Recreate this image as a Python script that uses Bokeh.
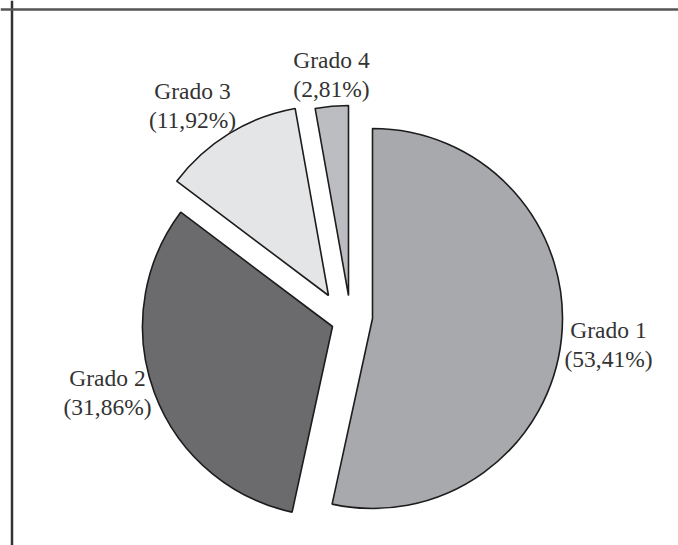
import math
from bokeh.plotting import figure
from bokeh.models import ColumnDataSource, Span
from bokeh.core.properties import value
from bokeh.embed import file_html
from bokeh.resources import INLINE

# ---- data ----
categories = ["Grado 1", "Grado 2", "Grado 3", "Grado 4"]
percentages = [53.41, 31.86, 11.92, 2.81]

# ---- layout / style (not data) ----
W, H = 678, 545
center = (350, 229)          # pie centre in plot units (1 unit = 1 px)
radius = 190
explode = [(22, -2), (-18, -10), (-22, 21), (-2, 21)]      # per-slice shift
label_anchor = [(258, -28), (-243, -76), (-158, 211), (-19, 242)]
line_gap = 14.5
colors = ["#a8a9ac", "#6b6b6d", "#e4e5e7", "#bcbdc0"]

total = sum(percentages)
xs, ys, starts, ends = [], [], [], []
cum = 0.0
for i, v in enumerate(percentages):
    f0 = cum / total
    cum += v
    f1 = cum / total
    # clockwise from 12 o'clock -> bokeh counter-clockwise angles
    starts.append(math.radians(90 - 360 * f1))
    ends.append(math.radians(90 - 360 * f0))
    xs.append(center[0] + explode[i][0])
    ys.append(center[1] + explode[i][1])

src = ColumnDataSource(dict(x=xs, y=ys, start=starts, end=ends, color=colors))

p = figure(width=W, height=H, x_range=(0, W), y_range=(0, H),
           output_backend="svg", toolbar_location=None, min_border=0)
p.axis.visible = False
p.grid.visible = False
p.outline_line_color = None
p.background_fill_color = "white"
p.border_fill_color = "white"

p.wedge(x="x", y="y", radius=radius, start_angle="start", end_angle="end",
        fill_color="color", line_color="#1c1c1c", line_width=1.6, source=src)

name_x, name_y, pct_x, pct_y, pct_txt = [], [], [], [], []
for i, (c, v) in enumerate(zip(categories, percentages)):
    ax = center[0] + label_anchor[i][0]
    ay = center[1] + label_anchor[i][1]
    name_x.append(ax)
    name_y.append(ay + line_gap)
    pct_x.append(ax)
    pct_y.append(ay - line_gap)
    pct_txt.append(("(%.2f%%)" % v).replace(".", ","))

common = dict(text_font=value("Liberation Serif"), text_font_size="23.5px",
              text_align="center", text_baseline="middle", text_color="#333333")
p.text(x=name_x, y=name_y, text=categories, **common)
p.text(x=pct_x, y=pct_y, text=pct_txt, **common)

# frame lines (left and top only, as in the scanned figure)
p.add_layout(Span(location=11.5, dimension="height", line_color="#333333", line_width=2.5))
p.add_layout(Span(location=536, dimension="width", line_color="#555555", line_width=2.5))

open("out.html", "w").write(file_html(p, INLINE))
